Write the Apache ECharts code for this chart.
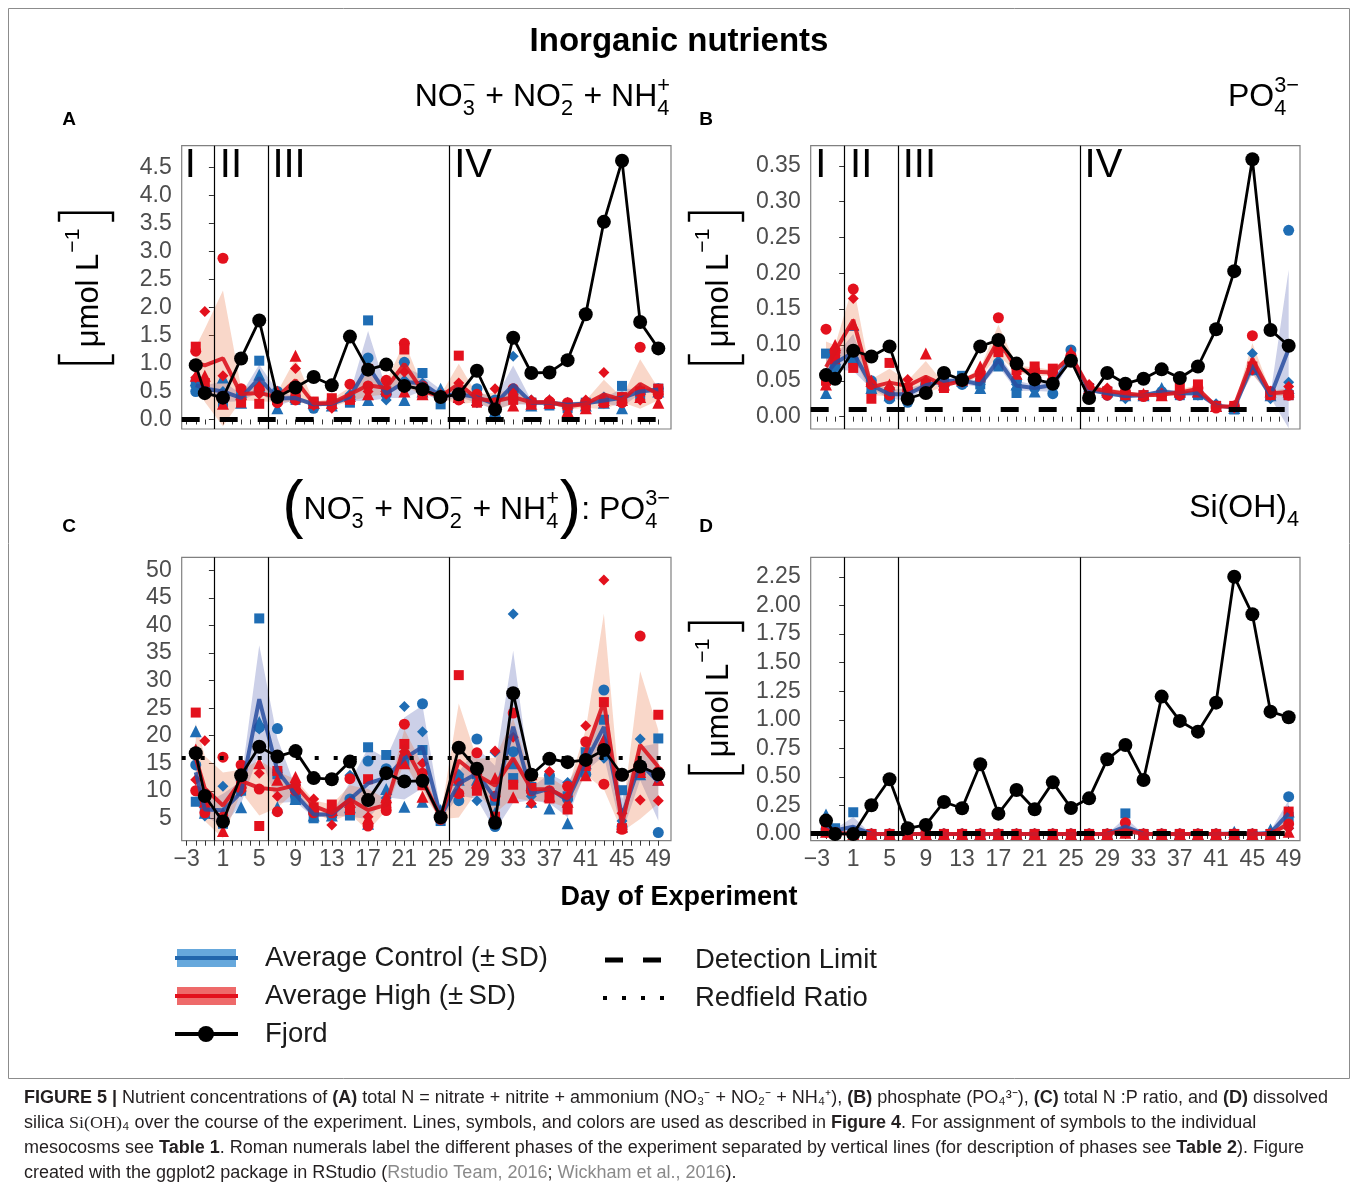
<!DOCTYPE html>
<html>
<head>
<meta charset="utf-8">
<title>Inorganic nutrients</title>
<script src="https://cdn.jsdelivr.net/npm/echarts@6.0.0/dist/echarts.min.js"></script>
<style>
html,body{margin:0;padding:0;background:#ffffff;}
#chart{width:1358px;height:1190px;}
</style>
</head>
<body>
<div id="chart"></div>
<script>
// ------------------------------------------------------------------ data
const days = [-2,-1,1,3,5,7,9,11,13,15,17,19,21,23,25,27,29,31,33,35,37,39,41,43,45,47,49];
const xTickLabels = [-3,1,5,9,13,17,21,25,29,33,37,41,45,49];
const phaseBoundaries = [0,6,26];
const phaseNames = ['I','II','III','IV'];
const phaseLabelDays = [-3.2,0.65,6.45,26.5];
const detectionLimit = 0.01;
const redfieldRatio = 16;

const A_yTicks = [0,0.5,1,1.5,2,2.5,3,3.5,4,4.5];
const B_yTicks = [0,0.05,0.1,0.15,0.2,0.25,0.3,0.35];
const C_yTicks = [5,10,15,20,25,30,35,40,45,50];
const D_yTicks = [0,0.25,0.5,0.75,1,1.25,1.5,1.75,2,2.25];

// A: NO3- + NO2- + NH4+  [umol/L]
const A_fjord         = [0.97,0.47,0.39,1.09,1.77,0.40,0.57,0.76,0.61,1.48,0.89,0.98,0.60,0.54,0.40,0.45,0.87,0.18,1.46,0.83,0.84,1.06,1.88,3.53,4.62,1.74,1.27];
const A_ctrl_circle   = [0.50,0.55,0.45,0.40,0.50,0.50,0.40,0.20,0.30,0.40,1.10,0.45,1.02,0.60,0.45,0.45,0.55,0.35,0.50,0.30,0.30,0.25,0.30,0.35,0.40,0.50,0.55];
const A_ctrl_square   = [0.65,0.50,0.30,0.45,1.05,0.35,0.35,0.30,0.30,0.30,1.77,0.50,0.60,0.83,0.27,0.50,0.40,0.25,0.40,0.30,0.25,0.20,0.30,0.30,0.60,0.45,0.55];
const A_ctrl_triangle = [0.70,0.62,0.75,0.30,0.80,0.20,0.40,0.30,0.25,0.45,0.35,0.55,0.35,0.50,0.55,0.40,0.35,0.15,0.45,0.25,0.35,0.30,0.25,0.30,0.20,0.55,0.50];
const A_ctrl_diamond  = [0.60,0.55,0.50,0.40,0.60,0.45,0.38,0.28,0.28,0.45,0.60,0.35,0.70,0.65,0.40,0.45,0.30,0.35,1.13,0.35,0.30,0.30,0.30,0.40,0.35,0.50,0.55];
const A_high_circle   = [1.22,0.50,2.88,0.55,0.55,0.30,0.35,0.28,0.30,0.63,0.60,0.70,1.36,0.60,0.42,0.35,0.45,0.30,0.55,0.30,0.32,0.30,0.30,0.30,0.30,1.29,0.45];
const A_high_square   = [1.30,0.65,0.42,0.30,0.28,0.35,0.40,0.32,0.38,0.35,0.90,0.50,1.25,0.45,0.40,1.14,0.30,0.20,0.35,0.30,0.28,0.25,0.25,0.30,0.40,0.50,0.55];
const A_high_triangle = [0.78,0.78,0.28,0.45,0.62,0.50,1.14,0.30,0.30,0.42,0.45,0.60,0.50,0.45,0.45,0.40,0.35,0.25,0.25,0.28,0.30,0.15,0.20,0.35,0.35,0.40,0.30];
const A_high_diamond  = [0.75,1.93,0.78,0.52,0.45,0.45,0.91,0.25,0.20,0.40,0.50,0.45,0.85,0.55,0.38,0.65,0.40,0.55,0.45,0.35,0.35,0.25,0.35,0.84,0.35,0.35,0.50];

// B: PO4 3-  [umol/L]
const B_fjord         = [0.058,0.053,0.092,0.084,0.098,0.025,0.033,0.061,0.051,0.098,0.107,0.074,0.052,0.046,0.078,0.026,0.061,0.046,0.053,0.066,0.054,0.070,0.122,0.203,0.359,0.121,0.099];
const B_ctrl_circle   = [0.055,0.070,0.080,0.050,0.025,0.020,0.045,0.050,0.045,0.050,0.075,0.050,0.040,0.032,0.093,0.035,0.030,0.030,0.030,0.035,0.030,0.035,0.015,0.012,0.065,0.030,0.260];
const B_ctrl_square   = [0.088,0.065,0.075,0.040,0.030,0.030,0.045,0.050,0.057,0.045,0.070,0.033,0.045,0.045,0.080,0.040,0.035,0.030,0.030,0.030,0.030,0.030,0.015,0.010,0.065,0.030,0.030];
const B_ctrl_triangle = [0.033,0.080,0.128,0.040,0.030,0.035,0.040,0.050,0.050,0.040,0.080,0.045,0.035,0.055,0.085,0.040,0.035,0.030,0.030,0.040,0.035,0.035,0.015,0.012,0.070,0.030,0.040];
const B_ctrl_diamond  = [0.060,0.085,0.075,0.045,0.040,0.040,0.045,0.050,0.050,0.045,0.090,0.045,0.040,0.045,0.080,0.035,0.030,0.025,0.030,0.035,0.035,0.030,0.018,0.015,0.088,0.025,0.048];
const B_high_circle   = [0.122,0.090,0.178,0.045,0.030,0.035,0.040,0.045,0.050,0.060,0.138,0.070,0.065,0.060,0.085,0.040,0.030,0.035,0.028,0.030,0.030,0.040,0.012,0.015,0.113,0.035,0.030];
const B_high_square   = [0.050,0.080,0.068,0.025,0.075,0.040,0.045,0.040,0.050,0.055,0.090,0.065,0.070,0.067,0.080,0.035,0.035,0.030,0.030,0.030,0.040,0.045,0.015,0.015,0.070,0.030,0.030];
const B_high_triangle = [0.045,0.100,0.129,0.050,0.045,0.045,0.088,0.045,0.052,0.070,0.100,0.060,0.055,0.060,0.090,0.040,0.038,0.035,0.032,0.030,0.035,0.035,0.015,0.015,0.075,0.035,0.035];
const B_high_diamond  = [0.060,0.095,0.165,0.045,0.040,0.052,0.050,0.045,0.048,0.060,0.100,0.070,0.060,0.060,0.085,0.045,0.040,0.030,0.030,0.033,0.030,0.035,0.015,0.012,0.065,0.030,0.042];

// C: N:P ratio
const C_fjord         = [16.8,9.05,4.4,12.8,18.0,16.2,17.2,12.3,12.1,15.3,8.3,13.2,11.7,11.8,5.2,17.8,14.0,4.2,27.7,12.9,15.8,15.2,15.6,17.4,12.9,14.4,13.0];
const C_ctrl_circle   = [14.7,8.0,5.0,12.0,21.5,21.3,9.0,6.0,5.5,8.5,15.4,14.0,16.0,25.8,5.0,8.2,19.4,3.5,17.1,10.0,12.8,8.5,13.0,28.3,3.5,13.0,2.4];
const C_ctrl_square   = [8.0,7.0,4.0,10.0,41.3,13.0,8.5,5.0,6.0,5.5,17.9,16.5,15.0,17.4,4.5,12.0,13.0,8.2,12.3,10.7,12.0,9.0,17.0,22.9,10.1,14.5,19.5];
const C_ctrl_triangle = [20.8,6.0,6.0,7.0,22.5,7.0,8.5,5.5,5.5,7.0,4.0,10.3,7.1,8.0,6.5,12.0,12.0,6.0,15.0,8.0,6.8,4.1,15.0,19.3,3.5,13.0,12.0];
const C_ctrl_diamond  = [10.0,5.4,10.8,9.8,21.2,13.3,11.2,6.3,5.7,12.8,8.0,8.7,25.3,20.7,5.5,13.0,8.2,17.0,42.1,9.0,10.0,11.5,16.0,15.9,4.5,19.4,12.5];
const C_high_circle   = [10.0,6.0,16.1,14.7,10.3,6.2,10.0,6.0,6.0,12.2,3.6,6.4,22.1,13.2,4.8,9.5,16.9,9.0,24.1,10.0,10.0,10.8,18.9,11.2,3.0,38.1,13.5];
const C_high_square   = [24.2,8.5,5.0,11.0,3.6,13.6,10.5,7.0,7.5,6.5,12.1,7.5,18.5,11.0,5.2,31.0,10.0,5.3,11.1,10.5,8.6,6.6,14.5,26.1,3.2,13.4,23.8];
const C_high_triangle = [17.5,8.0,2.7,11.5,15.0,12.0,12.5,7.5,6.5,8.0,5.0,8.8,15.0,8.9,5.5,10.0,11.5,12.3,8.8,13.0,9.0,8.0,12.8,19.2,3.5,13.4,12.0];
const C_high_diamond  = [12.0,19.1,5.5,10.0,13.2,9.0,11.0,8.5,3.8,7.0,5.3,7.0,17.1,15.0,5.0,11.5,13.0,17.2,19.7,7.7,13.5,9.0,21.8,48.3,5.9,8.3,8.2];

// D: Si(OH)4  [umol/L]
const D_fjord         = [0.117,0.0,0.0,0.251,0.479,0.05,0.079,0.28,0.225,0.61,0.178,0.385,0.216,0.452,0.228,0.312,0.654,0.779,0.473,1.203,0.99,0.896,1.15,2.253,1.924,1.071,1.022];
const D_ctrl_circle   = [0.04,0.02,0.02,0,0,0,0,0,0,0,0,0,0,0,0,0,0,0.02,0,0,0,0,0,0,0,0,0.327];
const D_ctrl_square   = [0.06,0.05,0.19,0,0,0,0,0,0,0,0,0,0,0,0,0,0,0.18,0,0,0,0,0,0,0,0,0.15];
const D_ctrl_triangle = [0.17,0.03,0.02,0,0,0,0,0,0,0,0,0,0,0,0,0,0,0.05,0,0,0,0,0,0.02,0,0.04,0.196];
const D_ctrl_diamond  = [0.05,0.02,0.02,0,0,0,0,0,0,0,0,0,0,0,0,0,0,0.01,0,0,0,0,0,0,0,0,0.05];
const D_high_circle   = [0.02,0.01,0,0,0,0,0,0,0,0,0,0,0,0,0,0,0,0.099,0,0,0,0,0,0,0,0,0.088];
const D_high_square   = [0.03,0.01,0,0,0,0,0,0,0,0,0,0,0,0,0,0,0,0.01,0,0,0,0,0,0,0,0,0.196];
const D_high_triangle = [0.02,0.01,0,0,0,0,0,0,0,0,0,0,0,0,0,0,0,0.01,0,0,0,0,0,0,0,0,0.02];
const D_high_diamond  = [0.01,0.01,0,0,0,0,0,0,0,0,0,0,0,0,0,0,0,0.01,0,0,0,0,0,0,0,0,0.05];

// ------------------------------------------------------------------ style / layout
const F = '"Liberation Sans", Arial, Helvetica, sans-serif';
const BLUE = '#1f6db4', RED = '#e3111d';
const BLUE_LINE = 'rgba(40,78,160,0.85)', RED_LINE = 'rgba(220,20,30,0.9)';
const BLUE_RIB = 'rgba(0,20,140,0.2)', RED_RIB = 'rgba(235,110,60,0.28)';
const shapes = ['circle','rect','triangle','diamond'];
const shapeSizes = [11,10,12,11];

const layout = [
  {left:181.7, top:145.7, width:489.3, height:283.3, xmin:-3.55, xmax:50.4,  ymin:-0.17,   ymax:4.89},
  {left:810.7, top:145.7, width:489.3, height:283.3, xmin:-3.69, xmax:50.25, ymin:-0.0172, ymax:0.378},
  {left:181.7, top:557.3, width:489.3, height:283.4, xmin:-3.55, xmax:50.4,  ymin:0.93,    ymax:52.4},
  {left:810.7, top:557.3, width:489.3, height:283.4, xmin:-3.69, xmax:50.25, ymin:-0.059,  ymax:2.423}
];

const panels = [
  {ctrl:[A_ctrl_circle,A_ctrl_square,A_ctrl_triangle,A_ctrl_diamond], high:[A_high_circle,A_high_square,A_high_triangle,A_high_diamond], fjord:A_fjord, yTicks:A_yTicks, dec:1, hline:detectionLimit, dash:[18,20], dashW:5, xLabels:false},
  {ctrl:[B_ctrl_circle,B_ctrl_square,B_ctrl_triangle,B_ctrl_diamond], high:[B_high_circle,B_high_square,B_high_triangle,B_high_diamond], fjord:B_fjord, yTicks:B_yTicks, dec:2, hline:detectionLimit, dash:[18,20], dashW:5, xLabels:false},
  {ctrl:[C_ctrl_circle,C_ctrl_square,C_ctrl_triangle,C_ctrl_diamond], high:[C_high_circle,C_high_square,C_high_triangle,C_high_diamond], fjord:C_fjord, yTicks:C_yTicks, dec:0, hline:redfieldRatio, dash:[4,15], dashW:4, xLabels:true},
  {ctrl:[D_ctrl_circle,D_ctrl_square,D_ctrl_triangle,D_ctrl_diamond], high:[D_high_circle,D_high_square,D_high_triangle,D_high_diamond], fjord:D_fjord, yTicks:D_yTicks, dec:2, hline:detectionLimit, dash:[18,20], dashW:5, xLabels:true}
];

function meanSd(arrs){
  return days.map((d,i)=>{
    const v = arrs.map(a=>a[i]);
    const m = v.reduce((s,x)=>s+x,0)/v.length;
    const sd = Math.sqrt(v.reduce((s,x)=>s+(x-m)*(x-m),0)/(v.length-1));
    return [d,m,sd];
  });
}
const dayTicks = [];
for (let d = xTickLabels[0]; d <= xTickLabels[xTickLabels.length-1]; d++) dayTicks.push(d);
const fmtX = v => v < 0 ? '\u2212' + Math.abs(v) : String(v);

function ribbonSeries(g, stats, color){
  return {
    type:'custom', xAxisIndex:g, yAxisIndex:g, silent:true, z:2, clip:true, data:stats,
    renderItem:(params, api)=>{
      if (params.dataIndex !== 0) return null;
      const up = stats.map(r=>api.coord([r[0], r[1]+r[2]]));
      const lo = stats.map(r=>api.coord([r[0], r[1]-r[2]])).reverse();
      return {type:'polygon', shape:{points:up.concat(lo)}, style:{fill:color}};
    }
  };
}

const option = {animation:false, grid:[], xAxis:[], yAxis:[], series:[]};
panels.forEach((p,g)=>{
  const L = layout[g];
  option.grid.push({left:L.left, top:L.top, width:L.width, height:L.height, show:true,
    borderColor:'#808080', borderWidth:1.2, backgroundColor:'#ffffff'});
  option.xAxis.push({type:'value', gridIndex:g, min:L.xmin, max:L.xmax,
    axisLine:{show:false}, splitLine:{show:false},
    axisTick:{show:true, length:5, customValues:dayTicks, lineStyle:{color:'#333333', width:1}},
    axisLabel:{show:p.xLabels, customValues:xTickLabels, formatter:fmtX, color:'#4d4d4d', fontSize:23, fontFamily:F, margin:7}});
  option.yAxis.push({type:'value', gridIndex:g, min:L.ymin, max:L.ymax,
    axisLine:{show:false}, splitLine:{show:false},
    axisTick:{show:true, length:5, customValues:p.yTicks, lineStyle:{color:'#333333', width:1}},
    axisLabel:{customValues:p.yTicks, formatter:v=>v.toFixed(p.dec), color:'#4d4d4d', fontSize:23, fontFamily:F, margin:10}});

  // phase separators
  option.series.push({type:'line', xAxisIndex:g, yAxisIndex:g, data:[], silent:true, z:1,
    markLine:{silent:true, animation:false, symbol:['none','none'], label:{show:false},
      lineStyle:{color:'#000', width:1.2, type:'solid'},
      data:phaseBoundaries.map(v=>({xAxis:v}))}});

  const cs = meanSd(p.ctrl), hs = meanSd(p.high);
  option.series.push(ribbonSeries(g, cs, BLUE_RIB));
  option.series.push(ribbonSeries(g, hs, RED_RIB));

  p.ctrl.forEach((arr,k)=>option.series.push({type:'scatter', xAxisIndex:g, yAxisIndex:g, silent:true, z:3,
    symbol:shapes[k], symbolSize:shapeSizes[k], itemStyle:{color:BLUE, opacity:1},
    data:days.map((d,i)=>[d,arr[i]])}));
  p.high.forEach((arr,k)=>option.series.push({type:'scatter', xAxisIndex:g, yAxisIndex:g, silent:true, z:3,
    symbol:shapes[k], symbolSize:shapeSizes[k], itemStyle:{color:RED, opacity:1},
    data:days.map((d,i)=>[d,arr[i]])}));

  option.series.push({type:'line', xAxisIndex:g, yAxisIndex:g, silent:true, z:4, showSymbol:false, symbol:'none',
    lineStyle:{color:BLUE_LINE, width:4}, data:cs.map(r=>[r[0],r[1]])});
  option.series.push({type:'line', xAxisIndex:g, yAxisIndex:g, silent:true, z:4, showSymbol:false, symbol:'none',
    lineStyle:{color:RED_LINE, width:4}, data:hs.map(r=>[r[0],r[1]])});

  // detection limit / Redfield ratio
  option.series.push({type:'line', xAxisIndex:g, yAxisIndex:g, data:[], silent:true, z:5,
    markLine:{silent:true, animation:false, symbol:['none','none'], label:{show:false},
      lineStyle:{color:'#000', width:p.dashW, type:p.dash, cap:'butt'},
      data:[{yAxis:p.hline}]}});

  option.series.push({type:'line', xAxisIndex:g, yAxisIndex:g, silent:true, z:6,
    symbol:'circle', symbolSize:14, showSymbol:true, itemStyle:{color:'#000'},
    lineStyle:{color:'#000', width:2.8}, data:days.map((d,i)=>[d,p.fjord[i]])});
});

const chart = echarts.init(document.getElementById('chart'));
chart.setOption(option);

// ------------------------------------------------------------------ annotations
const mctx = document.createElement('canvas').getContext('2d');
function tw(s, size, weight, family){
  mctx.font = (weight||'normal') + ' ' + size + 'px ' + (family||F);
  return mctx.measureText(s).width;
}
function txt(x, y, s, size, opts){
  opts = opts || {};
  return {type:'text', x:x, y:y, silent:true, style:{text:s, fontSize:size, fontFamily:opts.family||F,
    fontWeight:opts.weight||'normal', fill:opts.fill||'#000', align:opts.align||'left', verticalAlign:opts.va||'middle'}};
}
function mathTitle(tokens, size, rightX, cy){
  const parts = []; let x = 0; const ss = size*0.68;
  tokens.forEach(tk=>{
    if (typeof tk === 'string'){ parts.push({t:tk, x:x, dy:0, s:size}); x += tw(tk,size); }
    else if (tk.big){ const bs = size*tk.k; parts.push({t:tk.big, x:x, dy:tk.dy||0, s:bs}); x += tw(tk.big,bs); }
    else {
      let w = 0;
      if (tk.sub != null){ parts.push({t:tk.sub, x:x, dy:size*0.38, s:ss}); w = Math.max(w, tw(tk.sub,ss)); }
      if (tk.sup != null){ parts.push({t:tk.sup, x:x, dy:-size*0.33, s:ss}); w = Math.max(w, tw(tk.sup,ss)); }
      x += w + 1;
    }
  });
  const x0 = rightX - x;
  return parts.map(q=>txt(x0+q.x, cy+q.dy, q.t, q.s));
}
function yTitle(cx, cy){
  const size = 31, ss = 21, bw = 9, H = 54, gap = 7;
  const w1 = tw('\u03bcmol L', size), w2 = tw('\u22121', ss);
  const total = bw + gap + w1 + 1 + w2 + gap + bw;
  let x = -total/2;
  const ch = [];
  ch.push({type:'polyline', shape:{points:[[x+bw,-H/2],[x,-H/2],[x,H/2],[x+bw,H/2]]}, style:{stroke:'#000', lineWidth:2.4, fill:null}});
  x += bw + gap;
  ch.push(txt(x, 3, '\u03bcmol L', size));
  x += w1 + 1;
  ch.push(txt(x, -13, '\u22121', ss));
  x += w2 + gap;
  ch.push({type:'polyline', shape:{points:[[x,-H/2],[x+bw,-H/2],[x+bw,H/2],[x,H/2]]}, style:{stroke:'#000', lineWidth:2.4, fill:null}});
  return {type:'group', x:cx, y:cy, rotation:Math.PI/2, children:ch, silent:true};
}

const G = [];
// outer frame
G.push({type:'rect', silent:true, shape:{x:8.5, y:8.5, width:1341, height:1070}, style:{fill:null, stroke:'#8c8c8c', lineWidth:1}});
// main title & axis title
G.push(txt(679, 42, 'Inorganic nutrients', 33, {weight:'bold', align:'center'}));
G.push(txt(679, 898, 'Day of Experiment', 27, {weight:'bold', align:'center'}));
// panel letters
G.push(txt(69, 120, 'A', 19, {weight:'bold', align:'center'}));
G.push(txt(706, 120, 'B', 19, {weight:'bold', align:'center'}));
G.push(txt(69, 527, 'C', 19, {weight:'bold', align:'center'}));
G.push(txt(706, 527, 'D', 19, {weight:'bold', align:'center'}));
// panel titles
const M = '\u2212';
mathTitle(['NO',{sub:'3',sup:M},' + NO',{sub:'2',sup:M},' + NH',{sub:'4',sup:'+'}], 32, 671, 97).forEach(e=>G.push(e));
mathTitle(['PO',{sub:'4',sup:'3'+M}], 32, 1300, 97).forEach(e=>G.push(e));
mathTitle([{big:'(',k:2.0,dy:-2},'NO',{sub:'3',sup:M},' + NO',{sub:'2',sup:M},' + NH',{sub:'4',sup:'+'},{big:')',k:2.0,dy:-2},': PO',{sub:'4',sup:'3'+M}], 32, 671, 510).forEach(e=>G.push(e));
mathTitle(['Si(OH)',{sub:'4'}], 32, 1300, 508).forEach(e=>G.push(e));
// y titles
G.push(yTitle(86, 288));
G.push(yTitle(716, 288));
G.push(yTitle(716, 698));
// phase numerals
[0,1].forEach(g=>{
  phaseNames.forEach((nm,k)=>{
    const pt = chart.convertToPixel({gridIndex:g}, [phaseLabelDays[k], layout[g].ymax]);
    G.push(txt(pt[0], pt[1]+20, nm, 40));
  });
});
// legend
const LY = [958, 996, 1034];
G.push({type:'rect', silent:true, shape:{x:177, y:LY[0]-9, width:59, height:18}, style:{fill:'#66a8dc'}});
G.push({type:'line', silent:true, shape:{x1:175, y1:LY[0], x2:238, y2:LY[0]}, style:{stroke:'#2166ac', lineWidth:4}});
G.push({type:'rect', silent:true, shape:{x:177, y:LY[1]-9, width:59, height:18}, style:{fill:'#ee6a6a'}});
G.push({type:'line', silent:true, shape:{x1:175, y1:LY[1], x2:238, y2:LY[1]}, style:{stroke:'#e3101c', lineWidth:4}});
G.push({type:'line', silent:true, shape:{x1:175, y1:LY[2], x2:238, y2:LY[2]}, style:{stroke:'#000', lineWidth:4}});
G.push({type:'circle', silent:true, shape:{cx:206, cy:LY[2], r:8}, style:{fill:'#000'}});
G.push(txt(265, LY[0], 'Average Control (\u00b1\u2009SD)', 27.5, {fill:'#1a1a1a'}));
G.push(txt(265, LY[1], 'Average High (\u00b1\u2009SD)', 27.5, {fill:'#1a1a1a'}));
G.push(txt(265, LY[2], 'Fjord', 27.5, {fill:'#1a1a1a'}));
G.push({type:'line', silent:true, shape:{x1:605, y1:960, x2:661, y2:960}, style:{stroke:'#000', lineWidth:5, lineDash:[18,20]}});
G.push({type:'line', silent:true, shape:{x1:603, y1:998, x2:666, y2:998}, style:{stroke:'#000', lineWidth:4, lineDash:[4,15]}});
G.push(txt(695, 960, 'Detection Limit', 27.5, {fill:'#1a1a1a'}));
G.push(txt(695, 998, 'Redfield Ratio', 27.5, {fill:'#1a1a1a'}));

// caption
const capSize = 17.5;
const capLines = [
  [['FIGURE 5 |','b'],[' Nutrient concentrations of ',''],['(A)','b'],[' total N = nitrate + nitrite + ammonium (NO\u2083\u207b + NO\u2082\u207b + NH\u2084\u207a), ',''],['(B)','b'],[' phosphate (PO\u2084\u00b3\u207b), ',''],['(C)','b'],[' total N :P ratio, and ',''],['(D)','b'],[' dissolved','']],
  [['silica ',''],['Si(OH)','s'],['\u2084 over the course of the experiment. Lines, symbols, and colors are used as described in ',''],['Figure 4','b'],['. For assignment of symbols to the individual','']],
  [['mesocosms see ',''],['Table 1','b'],['. Roman numerals label the different phases of the experiment separated by vertical lines (for description of phases see ',''],['Table 2','b'],['). Figure','']],
  [['created with the ggplot2 package in RStudio (',''],['Rstudio Team, 2016','g'],['; ',''],['Wickham et al., 2016','g'],[').','']]
];
const capY = [1098, 1123, 1148, 1173];
function segW(seg){
  if (seg[1]==='b') return tw(seg[0], capSize, 'bold');
  if (seg[1]==='s') return tw(seg[0], capSize, 'normal', '"Liberation Serif", serif');
  return tw(seg[0], capSize);
}
const line1W = capLines[0].reduce((s,sg)=>s+segW(sg),0);
const capScale = 1304 / line1W;
capLines.forEach((ln,i)=>{
  const text = ln.map(sg=>sg[1] ? '{'+sg[1]+'|'+sg[0]+'}' : '{n|'+sg[0]+'}').join('');
  G.push({type:'text', silent:true, x:24, y:capY[i], scaleX:capScale, scaleY:1,
    style:{text:text, fontSize:capSize, fontFamily:F, fill:'#231f20', align:'left', verticalAlign:'middle',
      rich:{
        n:{fontSize:capSize, fontFamily:F, fill:'#231f20'},
        b:{fontSize:capSize, fontFamily:F, fontWeight:'bold', fill:'#231f20'},
        s:{fontSize:capSize, fontFamily:'"Liberation Serif", serif', fill:'#231f20'},
        g:{fontSize:capSize, fontFamily:F, fill:'#8a8a8a'}
      }}});
});

chart.setOption({graphic:G});
</script>
</body>
</html>
